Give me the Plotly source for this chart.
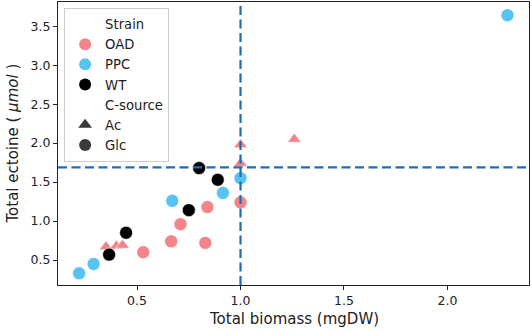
import plotly.graph_objects as go

# ---- data ----
biomass = [0.35, 0.40, 0.43, 1.00, 1.00, 1.26,
           0.53, 0.665, 0.83, 0.71, 0.84, 1.00,
           0.22, 0.29, 0.67, 0.915, 1.00, 2.29,
           0.365, 0.447, 0.75, 0.89, 0.80]
ectoine = [0.67, 0.68, 0.69, 1.98, 1.74, 2.05,
           0.60, 0.74, 0.72, 0.96, 1.18, 1.24,
           0.33, 0.45, 1.26, 1.36, 1.55, 3.64,
           0.57, 0.85, 1.14, 1.53, 1.68]
strain = ["OAD"] * 12 + ["PPC"] * 6 + ["WT"] * 5
csource = ["Ac"] * 6 + ["Glc"] * 6 + ["Glc"] * 6 + ["Glc"] * 5

strains = ["OAD", "PPC", "WT"]
csources = ["Ac", "Glc"]
biomass_threshold = 1.0
ectoine_threshold = 1.69

x_ticks = [0.5, 1.0, 1.5, 2.0]
y_ticks = [0.5, 1.0, 1.5, 2.0, 2.5, 3.0, 3.5]
x_range = [0.118, 2.394]
y_range = [0.18, 3.81]

colors = {"OAD": "#f1858a", "PPC": "#56c3f0", "WT": "#000000"}
symbols = {"Ac": "triangle-up", "Glc": "circle"}
FONT = "DejaVu Sans"

fig = go.Figure()

for s in strains:
    for c in csources:
        xs = [b for b, st, cs in zip(biomass, strain, csource) if st == s and cs == c]
        ys = [e for e, st, cs in zip(ectoine, strain, csource) if st == s and cs == c]
        if not xs:
            continue
        fig.add_trace(go.Scatter(
            x=xs, y=ys, mode="markers", showlegend=False,
            marker=dict(color=colors[s], symbol=symbols[c],
                        size=13 if c == "Glc" else 12,
                        line=dict(color="white", width=0.6)),
        ))

# legend entries
def leg(name, color, symbol, visible=True):
    fig.add_trace(go.Scatter(
        x=[None], y=[None], mode="markers", name=name,
        marker=dict(color=color, symbol=symbol, size=11,
                    opacity=1 if visible else 0, line=dict(width=0)),
    ))

leg("Strain", "white", "circle", False)
for s in strains:
    leg(s, colors[s], "circle")
leg("C-source", "white", "circle", False)
for c in csources:
    leg(c, "#3a3a3a", symbols[c])

line_style = dict(color="#1f6db3", width=2.2, dash="9px,4.5px")
fig.add_shape(type="line", xref="x", yref="paper", x0=biomass_threshold, x1=biomass_threshold,
              y0=0, y1=1, line=line_style, layer="above")
fig.add_shape(type="line", xref="paper", yref="y", x0=0, x1=1,
              y0=ectoine_threshold, y1=ectoine_threshold, line=line_style, layer="above")

axis_common = dict(showline=True, linecolor="#222222", linewidth=1.2, mirror=True,
                   ticks="outside", ticklen=4, tickwidth=1, tickcolor="#222222",
                   showgrid=False, zeroline=False, automargin=False,
                   tickfont=dict(family=FONT, size=12.5, color="#222222"))

fig.update_layout(
    width=532, height=334,
    margin=dict(l=58, r=3, t=2, b=49, autoexpand=False),
    paper_bgcolor="white", plot_bgcolor="white",
    font=dict(family=FONT, color="#222222"),
    xaxis=dict(range=x_range, tickvals=x_ticks, ticktext=[f"{v:.1f}" for v in x_ticks],
               **axis_common),
    yaxis=dict(range=y_range, tickvals=y_ticks, ticktext=[f"{v:.1f}" for v in y_ticks],
               **axis_common),
    legend=dict(x=0.013, y=0.979, xanchor="left", yanchor="top",
                bgcolor="rgba(255,255,255,0.85)", bordercolor="#cccccc", borderwidth=1,
                font=dict(family=FONT, size=13.2, color="#222222"),
                itemsizing="constant", tracegroupgap=0),
    annotations=[
        dict(text="Total biomass (mgDW)", xref="paper", yref="paper", x=0.5, y=0,
             xanchor="center", yanchor="middle", yshift=-34, showarrow=False,
             font=dict(family=FONT, size=15, color="#222222")),
        dict(text="Total ectoine ( <i>μmol</i> )", xref="paper", yref="paper", x=0, y=0.5,
             xanchor="center", yanchor="middle", xshift=-46, textangle=-90, showarrow=False,
             font=dict(family=FONT, size=15, color="#222222")),
    ],
)

fig.write_html("out.html", config={"displayModeBar": False},
               post_script="document.body.style.margin='0';document.body.style.overflow='hidden';")
